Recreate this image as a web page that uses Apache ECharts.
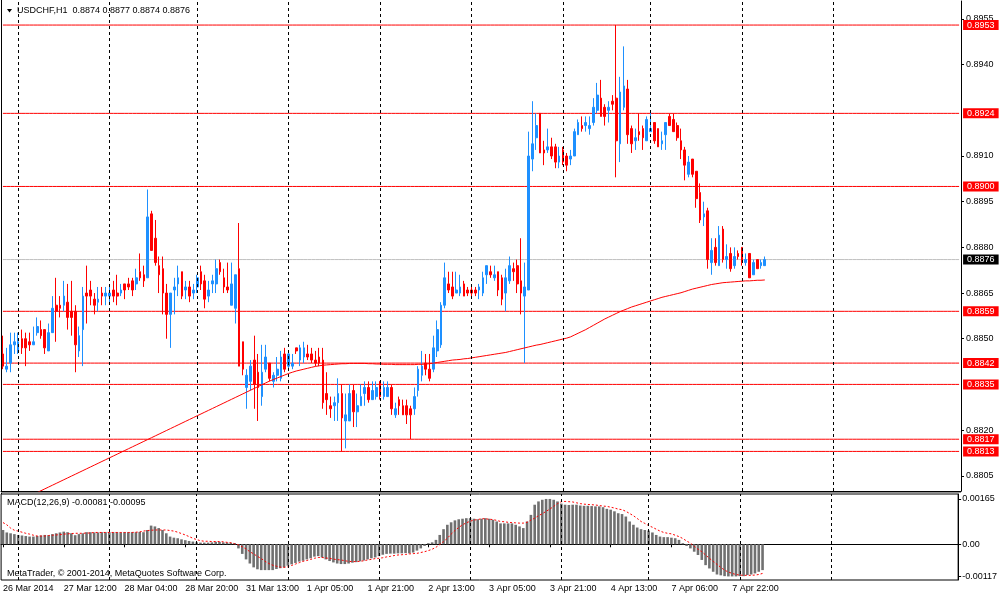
<!DOCTYPE html>
<html>
<head>
<meta charset="utf-8">
<script src="https://cdn.jsdelivr.net/npm/echarts@6/dist/echarts.min.js"></script>
<style>html,body{margin:0;padding:0;background:#fff;}#c{width:1000px;height:598px;}</style>
</head>
<body>
<div id="c"></div>
<script>
// ---- data (H1 bars, bar 0 = 26 Mar 2014 20:00) ----
const opens = [
.8845,.8840,.8842,.8848,.8846,.8850,.8850,.8849,.8848,.8852,
.8853,.8853,.8846,.8852,.8861,.8861,.8861,.8862,.8859,.8859,
.8846,.8853,.8865,.8866,.8863,.8862,.8865,.8864,.8864,.8866,
.8865,.8865,.8868,.8868,.8869,.8868,.8872,.8871,.8870,.8891,
.8883,.8874,.8873,.8865,.8858,.8866,.8868,.8872,.8866,.8867,
.8865,.8867,.8872,.8869,.8864,.8868,.8868,.8875,.8870,.8867,
.8861,.8860,.8873,.8849,.8834,.8836,.8843,.8839,.8831,.8840,
.8842,.8836,.8838,.8837,.8845,.8841,.8841,.8847,.8843,.8844,
.8845,.8845,.8843,.8844,.8843,.8832,.8828,.8828,.8829,.8832,
.8823,.8823,.8833,.8826,.8828,.8832,.8834,.8830,.8831,.8836,
.8831,.8831,.8834,.8825,.8830,.8828,.8828,.8827,.8827,.8833,
.8838,.8842,.8840,.8840,.8846,.8848,.8861,.8868,.8867,.8865,
.8865,.8868,.8866,.8866,.8866,.8866,.8865,.8871,.8872,.8870,
.8872,.8870,.8865,.8869,.8873,.8874,.8869,.8864,.8866,.8909,
.8916,.8924,.8912,.8912,.8913,.8913,.8908,.8912,.8910,.8909,
.8910,.8917,.8920,.8920,.8919,.8921,.8925,.8929,.8926,.8925,
.8928,.8929,.8914,.8926,.8932,.8919,.8915,.8918,.8919,.8915,
.8918,.8921,.8919,.8914,.8917,.8923,.8922,.8920,.8915,.8912,
.8904,.8909,.8905,.8898,.8890,.8892,.8875,.8880,.8874,.8886,
.8876,.8878,.8874,.8878,.8880,.8875,.8878,.8871,.8876,.8874,
.8874];
const closes = [
.8841,.8841,.8848,.8849,.8849,.8847,.8847,.8848,.8849,.8854,
.8851,.8847,.8852,.8860,.8859,.8860,.8864,.8857,.8857,.8848,
.8851,.8864,.8864,.8864,.8861,.8863,.8864,.8865,.8865,.8864,
.8864,.8866,.8866,.8867,.8866,.8870,.8870,.8869,.8890,.8879,
.8875,.8871,.8865,.8858,.8865,.8867,.8870,.8864,.8867,.8864,
.8866,.8870,.8868,.8863,.8866,.8869,.8873,.8872,.8867,.8866,
.8868,.8871,.8841,.8840,.8838,.8841,.8835,.8834,.8839,.8844,
.8837,.8838,.8840,.8844,.8840,.8845,.8842,.8846,.8847,.8847,
.8844,.8843,.8842,.8842,.8829,.8830,.8827,.8829,.8832,.8824,
.8825,.8832,.8826,.8828,.8831,.8834,.8830,.8833,.8834,.8831,
.8834,.8834,.8827,.8827,.8828,.8825,.8825,.8825,.8831,.8840,
.8841,.8840,.8837,.8847,.8853,.8861,.8870,.8866,.8864,.8866,
.8867,.8864,.8865,.8865,.8865,.8867,.8870,.8874,.8871,.8871,
.8866,.8863,.8870,.8874,.8872,.8868,.8865,.8867,.8910,.8914,
.8920,.8911,.8911,.8913,.8910,.8908,.8910,.8908,.8907,.8910,
.8918,.8921,.8919,.8921,.8920,.8926,.8930,.8923,.8923,.8926,
.8927,.8915,.8931,.8933,.8917,.8914,.8916,.8917,.8916,.8922,
.8919,.8915,.8913,.8915,.8921,.8920,.8918,.8916,.8912,.8907,
.8908,.8904,.8896,.8889,.8891,.8876,.8879,.8875,.8884,.8876,
.8877,.8873,.8877,.8877,.8875,.8876,.8870,.8875,.8873,.8875,
.8876];
const lows = [
.8840,.8839,.8839,.8845,.8845,.8845,.8841,.8846,.8848,.8851,
.8850,.8845,.8846,.8852,.8849,.8857,.8859,.8853,.8851,.8839,
.8844,.8841,.8855,.8861,.8858,.8859,.8861,.8861,.8862,.8862,
.8861,.8864,.8863,.8866,.8864,.8866,.8869,.8867,.8870,.8879,
.8874,.8865,.8858,.8850,.8847,.8858,.8864,.8863,.8863,.8862,
.8863,.8865,.8866,.8860,.8862,.8865,.8865,.8871,.8865,.8865,
.8861,.8855,.8841,.8838,.8827,.8833,.8827,.8823,.8828,.8839,
.8836,.8834,.8836,.8836,.8839,.8840,.8840,.8845,.8841,.8842,
.8843,.8842,.8841,.8841,.8827,.8825,.8824,.8823,.8823,.8813,
.8814,.8823,.8821,.8821,.8828,.8828,.8829,.8830,.8830,.8830,
.8830,.8831,.8825,.8824,.8825,.8825,.8822,.8817,.8825,.8831,
.8836,.8838,.8836,.8839,.8844,.8847,.8860,.8865,.8863,.8865,
.8864,.8864,.8864,.8864,.8864,.8863,.8864,.8868,.8870,.8869,
.8864,.8861,.8859,.8868,.8869,.8865,.8858,.8842,.8866,.8905,
.8912,.8911,.8907,.8911,.8909,.8906,.8906,.8907,.8905,.8907,
.8910,.8917,.8918,.8918,.8917,.8920,.8924,.8923,.8920,.8921,
.8925,.8903,.8908,.8925,.8914,.8911,.8912,.8915,.8912,.8915,
.8918,.8914,.8913,.8912,.8912,.8920,.8918,.8915,.8909,.8902,
.8903,.8903,.8893,.8888,.8887,.8873,.8871,.8874,.8874,.8875,
.8873,.8872,.8873,.8876,.8874,.8874,.8870,.8871,.8873,.8873,
.8874];
const highs = [
.8851,.8847,.8852,.8852,.8852,.8853,.8852,.8852,.8854,.8857,
.8856,.8853,.8855,.8864,.8870,.8864,.8869,.8868,.8869,.8861,
.8854,.8867,.8874,.8869,.8865,.8867,.8867,.8867,.8867,.8869,
.8871,.8868,.8868,.8870,.8870,.8873,.8878,.8874,.8899,.8892,
.8889,.8877,.8877,.8868,.8865,.8870,.8874,.8872,.8869,.8869,
.8868,.8871,.8874,.8871,.8869,.8871,.8876,.8876,.8873,.8875,
.8875,.8871,.8888,.8849,.8840,.8843,.8851,.8845,.8848,.8848,
.8842,.8839,.8844,.8846,.8847,.8846,.8845,.8847,.8848,.8849,
.8848,.8847,.8846,.8847,.8847,.8839,.8831,.8831,.8837,.8835,
.8832,.8835,.8835,.8832,.8835,.8836,.8836,.8836,.8836,.8836,
.8836,.8836,.8835,.8829,.8831,.8830,.8830,.8828,.8834,.8841,
.8846,.8845,.8845,.8851,.8856,.8862,.8875,.8872,.8872,.8872,
.8871,.8869,.8867,.8867,.8867,.8868,.8872,.8874,.8874,.8874,
.8872,.8871,.8873,.8877,.8875,.8876,.8883,.8875,.8918,.8928,
.8924,.8924,.8915,.8919,.8916,.8914,.8913,.8913,.8911,.8912,
.8919,.8922,.8923,.8923,.8923,.8929,.8934,.8935,.8927,.8928,
.8930,.8953,.8936,.8946,.8935,.8920,.8919,.8924,.8920,.8923,
.8925,.8921,.8919,.8918,.8921,.8924,.8924,.8921,.8919,.8913,
.8910,.8909,.8905,.8901,.8895,.8893,.8883,.8883,.8887,.8887,
.8881,.8880,.8880,.8879,.8880,.8878,.8878,.8876,.8876,.8876,
.8877];
const movingAvg = [
.87941,.87947,.87953,.87959,.87965,.87971,.87977,.87983,.87989,.87995,
.88001,.88007,.88013,.88019,.88025,.88031,.88037,.88043,.88049,.88055,
.88061,.88067,.88073,.88079,.88085,.88091,.88097,.88103,.88109,.88115,
.88121,.88127,.88133,.88139,.88145,.88151,.88157,.88163,.88169,.88175,
.88181,.88187,.88193,.88199,.88205,.88211,.88217,.88223,.88229,.88235,
.88241,.88247,.88253,.88259,.88265,.88271,.88277,.88283,.88289,.88295,
.88301,.88307,.88313,.88319,.88325,.88331,.88337,.88343,.88349,.88355,
.88361,.88366,.88371,.88376,.88381,.88386,.88390,.88394,.88397,.88400,
.88403,.88406,.88409,.88411,.88413,.88414,.88415,.88416,.88417,.88418,
.88418,.88419,.88419,.88419,.88419,.88419,.88418,.88418,.88417,.88417,
.88416,.88416,.88416,.88415,.88415,.88415,.88415,.88415,.88415,.88416,
.88416,.88417,.88418,.88420,.88422,.88424,.88426,.88428,.88430,.88431,
.88432,.88434,.88435,.88437,.88439,.88441,.88443,.88445,.88447,.88449,
.88451,.88453,.88455,.88458,.88461,.88464,.88467,.88470,.88473,.88476,
.88479,.88481,.88484,.88487,.88490,.88493,.88496,.88499,.88502,.88506,
.88512,.88518,.88524,.88530,.88537,.88544,.88551,.88558,.88565,.88571,
.88577,.88583,.88589,.88594,.88599,.88604,.88608,.88612,.88616,.88620,
.88624,.88628,.88632,.88636,.88639,.88642,.88645,.88648,.88651,.88655,
.88659,.88663,.88666,.88669,.88672,.88675,.88678,.88680,.88682,.88684,
.88685,.88686,.88687,.88688,.88689,.88690,.88690,.88691,.88692,.88692,
.88693];
// MACD main and signal, in units of 0.00001
const macdMain = [
52,43,40,37,34,32,30,28,28,30,
32,34,33,37,40,43,46,44,40,33,
37,40,44,44,43,43,44,44,44,44,
44,43,44,44,44,44,45,44,52,68,
65,59,52,40,28,24,22,18,15,12,
10,7,6,6,6,7,9,9,7,6,
5,4,-15,-35,-55,-70,-84,-91,-94,-94,
-94,-94,-90,-87,-84,-78,-73,-68,-63,-60,
-55,-51,-45,-43,-48,-55,-61,-66,-70,-72,
-72,-70,-67,-65,-62,-59,-55,-51,-48,-43,
-38,-35,-34,-34,-33,-33,-32,-33,-30,-23,
-15,-6,4,7,16,34,55,71,80,87,
91,93,95,95,93,91,93,95,93,89,
83,76,76,76,76,71,65,59,83,107,
144,156,162,165,165,162,156,148,144,143,
144,144,141,140,140,139,138,138,135,129,
126,120,113,110,101,83,71,61,55,52,
50,43,34,28,26,26,24,22,16,4,
-6,-15,-27,-39,-57,-76,-88,-100,-110,-113,
-116,-117,-117,-117,-116,-116,-112,-110,-106,-100,
-94];
const macdSignal = [
79,71,59,51,48,44,40,37,33,30,
30,30,32,33,34,35,37,38,39,40,
40,40,41,41,43,43,43,43,43,43,
43,43,43,43,43,44,45,48,50,51,
52,52,52,52,50,48,44,39,34,28,
22,17,13,11,11,10,10,10,9,7,
6,2,-2,-9,-17,-27,-35,-44,-52,-62,
-70,-76,-80,-83,-84,-82,-77,-72,-67,-62,
-59,-55,-51,-48,-48,-50,-51,-54,-56,-57,
-60,-62,-63,-63,-62,-60,-57,-55,-52,-51,
-49,-46,-44,-41,-39,-38,-37,-35,-34,-33,
-30,-27,-23,-18,-11,-1,10,22,37,50,
61,71,78,84,88,90,93,93,91,90,
87,83,82,80,79,78,77,77,80,88,
95,104,111,120,128,138,148,155,156,155,
154,151,148,146,145,144,143,141,139,138,
135,132,128,126,120,112,104,94,83,76,
68,62,55,48,43,40,38,33,28,21,
12,4,-7,-18,-27,-39,-51,-62,-73,-84,
-94,-101,-106,-110,-112,-113,-113,-113,-112,-110,
-106];
const levelLines = [0.8953, 0.8924, 0.8900, 0.8859, 0.8842, 0.8835, 0.8817, 0.8813];
const currentPrice = 0.8876;
const daySeparators = [4, 28, 51, 75, 99, 123, 147, 170, 194, 218];
const timeTickIndex = [0, 16, 32, 48, 64, 80, 96, 112, 128, 144, 160, 176, 192];
const timeTickLabels = ['26 Mar 2014','27 Mar 12:00','28 Mar 04:00','28 Mar 20:00','31 Mar 13:00','1 Apr 05:00','1 Apr 21:00','2 Apr 13:00','3 Apr 05:00','3 Apr 21:00','4 Apr 13:00','7 Apr 06:00','7 Apr 22:00'];
const priceTicks = [0.8955, 0.8940, 0.8910, 0.8895, 0.8880, 0.8865, 0.8850, 0.8820, 0.8805];
const macdTicks = [0.00165, 0, -0.00117];
const slotCount = 252;

// ---- build ----
const FONT = '"Liberation Sans", Arial, sans-serif';
const cats = Array.from({length: slotCount}, (_, i) => String(i));
const candles = opens.map((o, i) => [o, closes[i], lows[i], highs[i]]);
const tickMap = {};
timeTickIndex.forEach((idx, k) => { tickMap[idx] = timeTickLabels[k]; });
const isTick = (idx) => tickMap[idx] !== undefined;

const makeSeps = () => daySeparators.map(d => ({xAxis: d}));
function levelSeries(v, lineColor, boxColor) {
  return {
    type: 'line', xAxisIndex: 0, yAxisIndex: 0, silent: true, z: 1,
    data: cats.map(() => v), symbol: 'none',
    lineStyle: {color: lineColor, width: 1, type: 'solid'},
    itemStyle: {color: lineColor},
    emphasis: {disabled: true},
    endLabel: {show: true, distance: 4, formatter: v.toFixed(4), color: '#fff',
      backgroundColor: boxColor, padding: [1, 4, 0, 4], fontSize: 9, fontFamily: FONT, lineHeight: 9}
  };
}
const levelSeriesList = levelLines.map(v => levelSeries(v, '#ff0000', '#ff0000'));
levelSeriesList.push(levelSeries(currentPrice, '#c0c0c0', '#000000'));

const chart = echarts.init(document.getElementById('c'));
chart.setOption({
  animation: false,
  backgroundColor: '#fff',
  textStyle: {fontFamily: FONT},
  grid: [
    {left: 1, top: 1, width: 960, height: 490, show: false},
    {left: 1, top: 494, width: 960, height: 86, show: true, borderColor: '#000', borderWidth: 1, backgroundColor: '#fff'}
  ],
  xAxis: [
    {type: 'category', gridIndex: 0, data: cats, boundaryGap: true,
     axisLine: {show: true, lineStyle: {color: '#000'}}, axisTick: {show: false}, axisLabel: {show: false}, splitLine: {show: false}},
    {type: 'category', gridIndex: 1, data: cats, boundaryGap: true,
     axisLine: {show: true, lineStyle: {color: '#000'}},
     axisTick: {show: true, alignWithLabel: true, interval: (i) => isTick(i), length: 3, lineStyle: {color: '#000'}},
     axisLabel: {show: true, interval: (i) => isTick(i), formatter: (v, i) => tickMap[i] || '',
       align: 'left', margin: 4, fontSize: 9, color: '#000', fontFamily: FONT},
     splitLine: {show: false}}
  ],
  yAxis: [
    {type: 'value', gridIndex: 0, position: 'right', min: 0.8800, max: 0.89609, scale: true,
     splitLine: {show: false},
     axisLine: {show: true, lineStyle: {color: '#000'}},
     axisTick: {show: true, customValues: priceTicks, length: 3, lineStyle: {color: '#000'}},
     axisLabel: {show: true, customValues: priceTicks, formatter: (v) => v.toFixed(4),
       fontSize: 9, color: '#000', margin: 5, fontFamily: FONT}},
    {type: 'value', gridIndex: 1, position: 'right', min: -0.0013, max: 0.00183,
     splitLine: {show: false},
     axisLine: {show: true, lineStyle: {color: '#000'}},
     axisTick: {show: true, customValues: macdTicks, length: 3, lineStyle: {color: '#000'}},
     axisLabel: {show: true, customValues: macdTicks, formatter: (v) => v === 0 ? '0.00' : v.toFixed(5),
       fontSize: 9, color: '#000', margin: 4, fontFamily: FONT}}
  ],
  series: levelSeriesList.concat([
    {type: 'candlestick', name: 'USDCHF,H1', xAxisIndex: 0, yAxisIndex: 0, z: 2,
     data: candles, barWidth: 2.2,
     itemStyle: {color: '#1e90ff', color0: '#ff0000', borderColor: '#1e90ff', borderColor0: '#ff0000',
       borderColorDoji: '#1e90ff', borderWidth: 1},
     markLine: {symbol: 'none', silent: true, animation: false,
       lineStyle: {color: '#000', width: 1, type: [3, 3]}, label: {show: false},
       data: makeSeps()}},
    {type: 'line', name: 'MA', xAxisIndex: 0, yAxisIndex: 0, data: movingAvg,
     symbol: 'none', clip: true, lineStyle: {color: '#ff0000', width: 1}, itemStyle: {color: '#ff0000'}, z: 3},
    {type: 'bar', name: 'MACD', xAxisIndex: 1, yAxisIndex: 1,
     data: macdMain.map(v => v / 1e5), barWidth: 2.6,
     itemStyle: {color: '#707070'},
     markLine: {symbol: 'none', silent: true, animation: false,
       lineStyle: {color: '#000', width: 1, type: [3, 3]}, label: {show: false},
       data: makeSeps()}},
    {type: 'line', name: 'Signal', xAxisIndex: 1, yAxisIndex: 1,
     data: macdSignal.map(v => v / 1e5), symbol: 'none',
     lineStyle: {color: '#ff0000', width: 1, type: [2, 2]}, z: 4}
  ]),
  graphic: [
    {type: 'line', shape: {x1: 1.5, y1: 0, x2: 1.5, y2: 494}, style: {stroke: '#000', lineWidth: 1}},
    {type: 'line', shape: {x1: 1, y1: 492.5, x2: 961, y2: 492.5}, style: {stroke: '#909090', lineWidth: 1}},
    {type: 'polygon', shape: {points: [[7, 9], [12, 9], [9.5, 12.5]]}, style: {fill: '#000'}},
    {type: 'text', x: 17, y: 11, style: {text: 'USDCHF,H1  0.8874 0.8877 0.8874 0.8876',
      font: '9px ' + FONT, fill: '#000', textVerticalAlign: 'middle'}},
    {type: 'text', x: 7, y: 503, style: {text: 'MACD(12,26,9) -0.00081 -0.00095',
      font: '9px ' + FONT, fill: '#000', textVerticalAlign: 'middle'}},
    {type: 'text', x: 7, y: 574, style: {text: 'MetaTrader, \u00a9 2001-2014, MetaQuotes Software Corp.',
      font: '9px ' + FONT, fill: '#000', textVerticalAlign: 'middle'}}
  ]
});
</script>
</body>
</html>
